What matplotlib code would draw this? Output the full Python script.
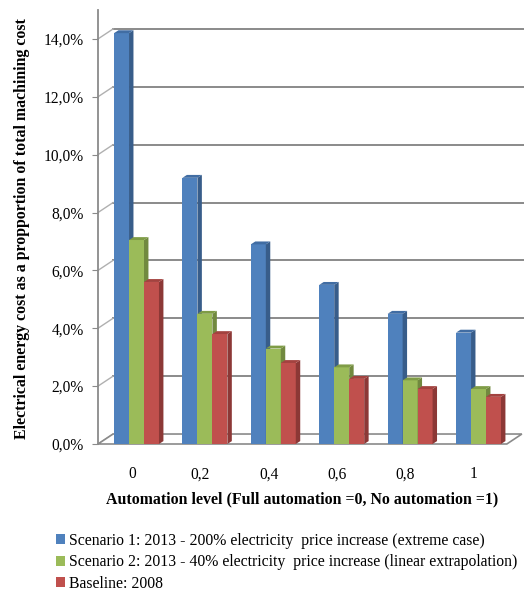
import matplotlib.pyplot as plt
from matplotlib.patches import Polygon
from matplotlib.ticker import FuncFormatter

plt.rcParams['font.family'] = ['Liberation Serif', 'DejaVu Serif']

levels = ['0', '0,2', '0,4', '0,6', '0,8', '1']
scenario1 = [14.2, 9.2, 6.9, 5.5, 4.5, 3.85]
scenario2 = [7.05, 4.5, 3.3, 2.65, 2.2, 1.9]
baseline = [5.6, 3.8, 2.8, 2.25, 1.9, 1.63]
yticks = [0, 2, 4, 6, 8, 10, 12, 14]

series = [
    ('Scenario 1: 2013 - 200% electricity  price increase (extreme case)', scenario1,
     '#4F81BD', '#385D8A', '#416DA3'),
    ('Scenario 2: 2013 - 40% electricity  price increase (linear extrapolation)', scenario2,
     '#9BBB59', '#71893F', '#7F9C46'),
    ('Baseline: 2008', baseline, '#C0504D', '#8C3836', '#A3423F'),
]

fig = plt.figure(figsize=(5.24, 5.92), dpi=100)
ax = fig.add_axes([98 / 524, 1 - 444 / 592, 426 / 524, 434 / 592])
xmin, xmax = -0.497, 5.731
ax.set_xlim(xmin, xmax)
ax.set_ylim(0, 15)

grey = '#8a8a8a'
# wall depth offsets (data units) and bar depth offsets
wdx, wdy = 0.22, 0.345
bdx, bdy = 0.065, 0.1
xfront_r = 5.48

# floor
floor = Polygon([(xmin, 0), (xfront_r, 0), (xfront_r + wdx, wdy), (xmin + wdx, wdy)],
                closed=True, facecolor='white', edgecolor=grey, lw=1.2, clip_on=False, zorder=1)
ax.add_patch(floor)

# back wall gridlines and diagonal stubs
for t in yticks[1:]:
    ax.plot([xmin + wdx, xmax], [t + wdy, t + wdy], color=grey, lw=1.4, zorder=0.5, clip_on=False)
for t in yticks:
    ax.plot([xmin, xmin + wdx], [t, t + wdy], color='#b0b0b0', lw=1.0, zorder=0.5, clip_on=False)

w = 0.219
shift = 0.066
for j, (label, vals, front, side, top) in enumerate(series):
    pos = [i + shift + (j - 1) * w for i in range(len(levels))]
    ax.bar(pos, vals, width=w, color=front, label=label, zorder=2 + j)
    for x, h in zip(pos, vals):
        x0, x1 = x - w / 2, x + w / 2
        ax.add_patch(Polygon([(x1, 0), (x1 + bdx, bdy), (x1 + bdx, h + bdy), (x1, h)],
                             closed=True, facecolor=side, edgecolor='none', zorder=2 + j))
        ax.add_patch(Polygon([(x0, h), (x0 + bdx, h + bdy), (x1 + bdx, h + bdy), (x1, h)],
                             closed=True, facecolor=top, edgecolor='none', zorder=2 + j))

for s in ['top', 'right', 'bottom']:
    ax.spines[s].set_visible(False)
ax.spines['left'].set_color(grey)
ax.spines['left'].set_linewidth(1.3)

ax.set_yticks(yticks)
ax.yaxis.set_major_formatter(FuncFormatter(lambda v, p: f'{v:.1f}%'.replace('.', ',')))
ax.tick_params(axis='y', direction='out', length=4, color=grey, labelsize=11.2, pad=6)
ax.set_xticks(range(len(levels)))
ax.set_xticklabels(levels)
ax.tick_params(axis='x', length=0, labelsize=11.2, pad=16)

fig.text(22 / 524, 1 - 229 / 592,
         'Electrical energy cost as a propportion of total machining cost',
         rotation=90, ha='center', va='center', fontsize=11.4, fontweight='bold')
fig.text(302 / 524, 1 - 499 / 592,
         'Automation level (Full automation =0, No automation =1)',
         ha='center', va='center', fontsize=11.4, fontweight='bold')

fig.legend(loc='upper left', bbox_to_anchor=(56 / 524, 1 - 533 / 592), frameon=False,
           fontsize=11.3, handlelength=0.6, handleheight=0.6, handletextpad=0.25,
           labelspacing=0.35, borderpad=0, borderaxespad=0)

fig.savefig('out.png', dpi=100)
